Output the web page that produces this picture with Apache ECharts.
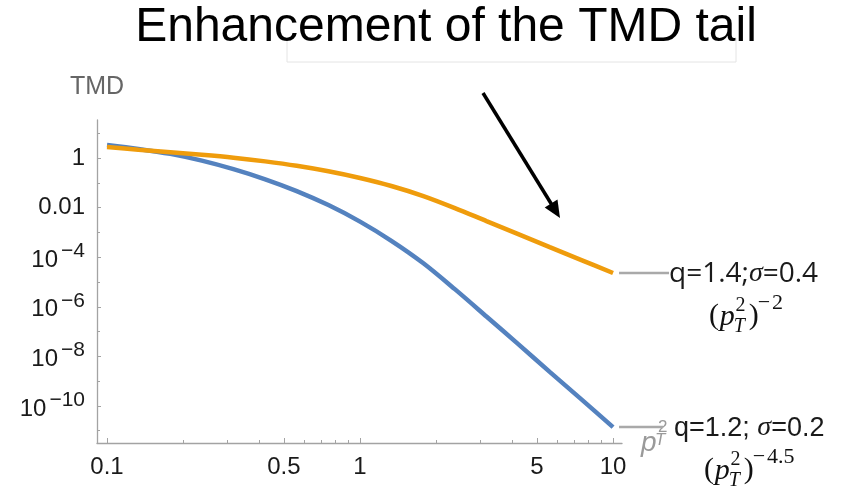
<!DOCTYPE html>
<html>
<head>
<meta charset="utf-8">
<script src="https://cdn.jsdelivr.net/npm/echarts@6/dist/echarts.min.js"></script>
<style>
  html, body { margin: 0; padding: 0; background: #fff; }
  #chart { width: 850px; height: 496px; }
</style>
</head>
<body>
<div id="chart"></div>
<script>
// Transverse-momentum points (x, evenly spaced in log) and TMD values for the two parameter sets
const pT = [0.1, 0.133, 0.178, 0.237, 0.316, 0.422, 0.562, 0.75, 1, 1.33, 1.78, 2.37, 3.16, 4.22, 5.62, 7.5, 10];
const tmdNarrow = [3.34, 2.32, 1.46, 0.778, 0.353, 0.138, 0.0463, 0.0126, 2.72e-3, 4.58e-4, 5.68e-5, 5.13e-6,
                   4.06e-7, 3.10e-8, 2.37e-9, 1.83e-10, 1.40e-11];   // q=1.2, sigma=0.2
const tmdWide = [2.78, 2.15, 1.70, 1.35, 1.03, 0.729, 0.485, 0.291, 0.156, 0.0743, 0.0291, 9.55e-3,
                 2.85e-3, 8.54e-4, 2.55e-4, 7.64e-5, 2.29e-5];       // q=1.4, sigma=0.4

// Tick positions
const xMajorTicks = [0.1, 0.5, 1, 5, 10];
const xMinorTicks = [0.2, 0.3, 0.4, 0.6, 0.7, 0.8, 0.9, 2, 3, 4, 6, 7, 8, 9];
const yMajorTicks = [1, 1e-2, 1e-4, 1e-6, 1e-8, 1e-10];
const yMinorTicks = [10, 1e-1, 1e-3, 1e-5, 1e-7, 1e-9, 1e-11];

// Axis ranges
const xRange = [0.0913, 10.85];
const yRange = [3.2e-12, 34];

const AXIS_GRAY = '#a3a3a3';
const BLUE = '#5482bf';
const ORANGE = '#ef9c0c';
const SANS = '"Liberation Sans", Arial, sans-serif';
const SERIF = '"Liberation Serif", "DejaVu Serif", serif';

const chart = echarts.init(document.getElementById('chart'), null, { renderer: 'canvas' });

function yLabel(v) {
  const e = Math.round(Math.log10(v));
  if (e === 0) return '1';
  if (e === -2) return '0.01';
  return '{b|10}{s|\u2212' + (-e) + '}';
}

const xAxisBase = {
  type: 'log', logBase: 10, min: xRange[0], max: xRange[1],
  gridIndex: 0, position: 'bottom', splitLine: { show: false }
};
const yAxisBase = {
  type: 'log', logBase: 10, min: yRange[0], max: yRange[1],
  gridIndex: 0, position: 'left', splitLine: { show: false }
};

const option = {
  animation: false,
  backgroundColor: '#fff',
  title: {
    text: 'Enhancement of the TMD tail',
    left: 441, top: -1, textAlign: 'center',
    textStyle: { fontFamily: SANS, fontSize: 48, fontWeight: 'normal', color: '#000' }
  },
  grid: { left: 97, right: 228, top: 120, bottom: 53, containLabel: false },
  xAxis: [
    Object.assign({}, xAxisBase, {
      axisLine: { show: true, lineStyle: { color: AXIS_GRAY, width: 1.3 } },
      axisTick: { show: true, inside: true, length: 5, customValues: xMajorTicks, lineStyle: { color: AXIS_GRAY, width: 1 } },
      axisLabel: {
        show: true, customValues: xMajorTicks, margin: 12,
        fontFamily: SANS, fontSize: 24, color: '#1a1a1a',
        formatter: v => String(+v.toPrecision(3))
      }
    }),
    Object.assign({}, xAxisBase, {
      axisLine: { show: false },
      axisTick: { show: true, inside: true, length: 3, customValues: xMinorTicks, lineStyle: { color: AXIS_GRAY, width: 1 } },
      axisLabel: { show: false }
    })
  ],
  yAxis: [
    Object.assign({}, yAxisBase, {
      name: 'TMD', nameLocation: 'end', nameGap: 20,
      nameTextStyle: { fontFamily: SANS, fontSize: 25, color: '#666', align: 'center' },
      axisLine: { show: true, lineStyle: { color: AXIS_GRAY, width: 1.3 } },
      axisTick: { show: true, inside: true, length: 4, customValues: yMajorTicks, lineStyle: { color: AXIS_GRAY, width: 1 } },
      axisLabel: {
        show: true, customValues: yMajorTicks, margin: 12,
        fontFamily: SANS, fontSize: 24, color: '#1a1a1a',
        formatter: yLabel,
        rich: {
          b: { fontFamily: SANS, fontSize: 24, color: '#1a1a1a', padding: [6, 0, 0, 0] },
          s: { fontFamily: SANS, fontSize: 21, color: '#1a1a1a', padding: [0, 0, 12, 3] }
        }
      }
    }),
    Object.assign({}, yAxisBase, {
      axisLine: { show: false },
      axisTick: { show: true, inside: true, length: 3, customValues: yMinorTicks, lineStyle: { color: AXIS_GRAY, width: 1 } },
      axisLabel: { show: false }
    })
  ],
  series: [
    {
      name: 'q=1.2; σ=0.2', type: 'line', xAxisIndex: 0, yAxisIndex: 0,
      data: pT.map((x, i) => [x, tmdNarrow[i]]),
      smooth: 0.3, showSymbol: false, symbol: 'none',
      lineStyle: { color: BLUE, width: 4.5 }, z: 3
    },
    {
      name: 'q=1.4;σ=0.4', type: 'line', xAxisIndex: 0, yAxisIndex: 0,
      data: pT.map((x, i) => [x, tmdWide[i]]),
      smooth: 0.3, showSymbol: false, symbol: 'none',
      lineStyle: { color: ORANGE, width: 4.5 }, z: 4
    }
  ]
};
chart.setOption(option);

// (p_T^2)^exp written with separate glyph pieces: base, stacked sup/sub, outer exponent
function ptPower(x, y, exp, color, size) {
  const small = Math.round(size * 0.68);
  const expSize = Math.round(size * 0.74);
  const els = [
    { type: 'text', x: x, y: y, style: { text: '(', font: size + 'px ' + SERIF, fill: color, textVerticalAlign: 'middle' } },
    { type: 'text', x: x + size * 0.36, y: y + 1, style: { text: 'p', font: 'italic ' + size + 'px ' + SERIF, fill: color, textVerticalAlign: 'middle' } },
    { type: 'text', x: x + size * 0.88, y: y - size * 0.34, style: { text: '2', font: small + 'px ' + SERIF, fill: color, textVerticalAlign: 'middle' } },
    { type: 'text', x: x + size * 0.82, y: y + size * 0.36, style: { text: 'T', font: 'italic ' + small + 'px ' + SERIF, fill: color, textVerticalAlign: 'middle' } },
    { type: 'text', x: x + size * 1.32, y: y, style: { text: ')', font: size + 'px ' + SERIF, fill: color, textVerticalAlign: 'middle' } },
    { type: 'text', x: x + size * 1.62, y: y - size * 0.42, style: { text: '\u2212\u200a' + exp, font: expSize + 'px ' + SERIF, fill: color, textVerticalAlign: 'middle' } }
  ];
  return { type: 'group', children: els };
}

function drawAnnotations() {
  const last = pT.length - 1;
  const endWide = chart.convertToPixel({ xAxisIndex: 0, yAxisIndex: 0 }, [pT[last], tmdWide[last]]);
  const endNarrow = chart.convertToPixel({ xAxisIndex: 0, yAxisIndex: 0 }, [pT[last], tmdNarrow[last]]);
  const grid = chart.getModel().getComponent('grid', 0).coordinateSystem.getRect();
  const axisY = grid.y + grid.height;
  const axisRight = grid.x + grid.width;

  // arrow pointing at the enhanced tail
  const tail = [483, 93], tip = [560, 218];
  const dx = tip[0] - tail[0], dy = tip[1] - tail[1];
  const len = Math.hypot(dx, dy), ux = dx / len, uy = dy / len;
  const headL = 17, headW = 7.5;
  const bx = tip[0] - ux * headL, by = tip[1] - uy * headL;

  const graphics = [
    // faint text-box outline under the heading
    { type: 'polyline', shape: { points: [[287, 38], [287, 62], [736, 62], [736, 38]] }, style: { stroke: '#e4e4e4', lineWidth: 1, fill: null }, silent: true },
    { type: 'line', shape: { x1: tail[0], y1: tail[1], x2: bx + ux * 2, y2: by + uy * 2 }, style: { stroke: '#000', lineWidth: 3.5 } },
    { type: 'polygon', shape: { points: [[tip[0], tip[1]], [bx - uy * headW, by + ux * headW], [bx + uy * headW, by - ux * headW]] }, style: { fill: '#000' } },

    // leader lines from the curve ends
    { type: 'line', shape: { x1: endWide[0] + 6, y1: endWide[1], x2: endWide[0] + 56, y2: endWide[1] }, style: { stroke: '#a9a9a9', lineWidth: 2.5 }, z: 1 },
    { type: 'line', shape: { x1: endNarrow[0] + 6, y1: endNarrow[1], x2: endNarrow[0] + 50, y2: endNarrow[1] }, style: { stroke: '#a9a9a9', lineWidth: 2.5 }, z: 1 },

    // curve labels
    {
      type: 'text', x: endWide[0] + 56, y: endWide[1] + 1,
      style: {
        text: '{a|q=1.4;}{g|σ}{a|=0.4}', textVerticalAlign: 'middle',
        rich: {
          a: { fontFamily: '"Open Sans", sans-serif', fontSize: 28, fill: '#1a1a1a' },
          g: { fontFamily: SERIF, fontStyle: 'italic', fontSize: 28, fill: '#1a1a1a' }
        }
      }
    },
    {
      type: 'text', x: endNarrow[0] + 61, y: endNarrow[1] + 1,
      style: {
        text: '{a|q=1.2; }{g|σ}{a|=0.2}', textVerticalAlign: 'middle',
        rich: {
          a: { fontFamily: SANS, fontSize: 27, fill: '#1a1a1a' },
          g: { fontFamily: SERIF, fontStyle: 'italic', fontSize: 28, fill: '#1a1a1a' }
        }
      }
    },
    ptPower(endWide[0] + 96, endWide[1] + 43, '2', '#111', 30),
    ptPower(endNarrow[0] + 91, endNarrow[1] + 43, '4.5', '#111', 30),

    // horizontal axis name p_T^2
    { type: 'text', x: axisRight + 19, y: axisY, style: { text: 'p', font: 'italic 28px ' + SANS, fill: '#9a9a9a', textVerticalAlign: 'middle' } },
    { type: 'text', x: axisRight + 36, y: axisY - 16, style: { text: '2', font: '17px ' + SANS, fill: '#9a9a9a', textVerticalAlign: 'middle' } },
    { type: 'text', x: axisRight + 33, y: axisY - 3, style: { text: 'T', font: 'italic 17px ' + SANS, fill: '#9a9a9a', textVerticalAlign: 'middle' } }
  ];
  chart.setOption({ graphic: graphics });
}
drawAnnotations();
</script>
</body>
</html>
